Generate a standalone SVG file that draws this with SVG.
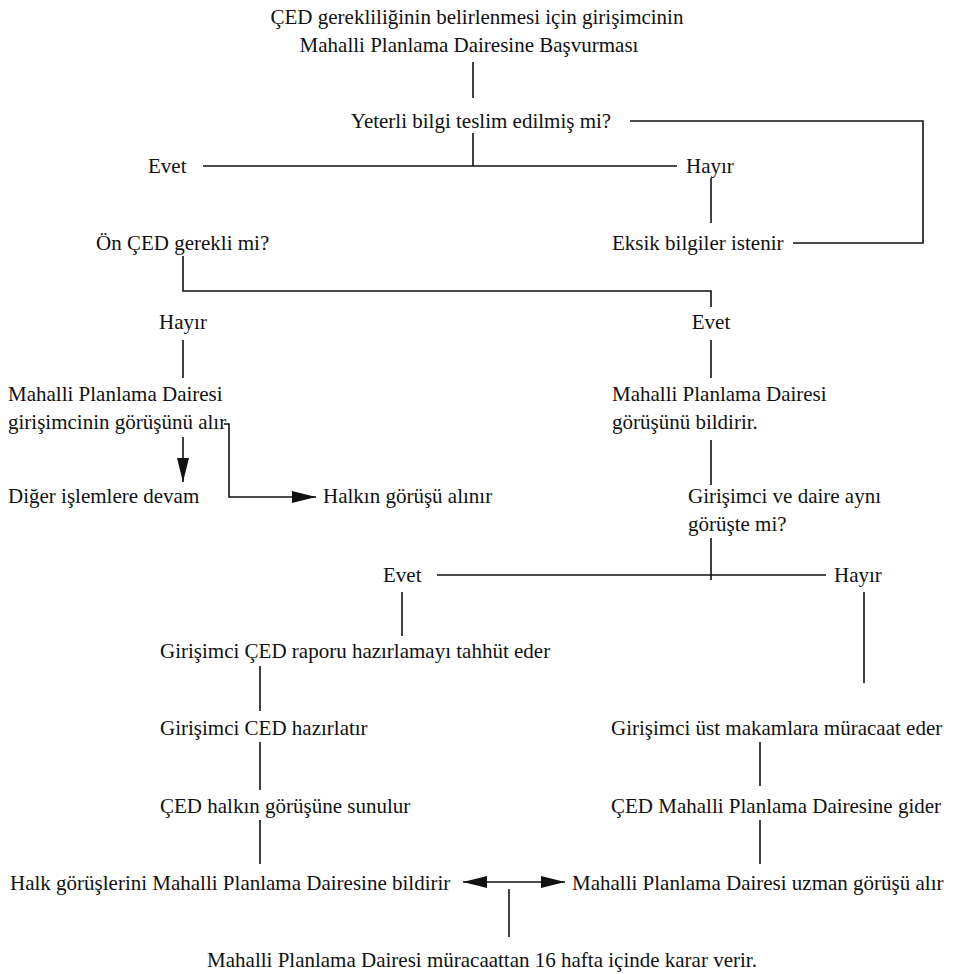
<svg xmlns="http://www.w3.org/2000/svg" width="956" height="974" viewBox="0 0 956 974">
<style>
.t text{font-size:21px;fill:#111}
.c{text-anchor:middle}
.ln{stroke:#111;stroke-width:1.6;fill:none}
</style>
<defs>
<marker id="ah" viewBox="0 0 24 12" markerWidth="24" markerHeight="12" refX="24" refY="6" markerUnits="userSpaceOnUse" orient="auto-start-reverse">
<path d="M0,0 L24,6 L0,12 z" fill="#111"/>
</marker>
</defs>
<rect width="956" height="974" fill="#fff"/>
<g id="connectors" class="ln">
<line x1="473" y1="62" x2="473" y2="98"/>
<line x1="473" y1="133" x2="473" y2="166"/>
<line x1="203" y1="166" x2="677" y2="166"/>
<polyline points="630,121 923,121 923,243 793,243"/>
<line x1="711" y1="178" x2="711" y2="223"/>
<polyline points="183,256 183,291 711,291 711,307"/>
<line x1="183" y1="340" x2="183" y2="378"/>
<line x1="711" y1="340" x2="711" y2="378"/>
<line x1="183" y1="437" x2="183" y2="482" marker-end="url(#ah)"/>
<polyline points="224,424 229,424 229,497 316,497" marker-end="url(#ah)"/>
<line x1="711" y1="440" x2="711" y2="485"/>
<line x1="711" y1="538" x2="711" y2="580"/>
<line x1="437" y1="575" x2="826" y2="575"/>
<line x1="402" y1="592" x2="402" y2="636"/>
<line x1="864" y1="592" x2="864" y2="683"/>
<line x1="260" y1="666" x2="260" y2="711"/>
<line x1="260" y1="742" x2="260" y2="790"/>
<line x1="760" y1="742" x2="760" y2="786"/>
<line x1="260" y1="820" x2="260" y2="864"/>
<line x1="760" y1="820" x2="760" y2="864"/>
<line x1="463" y1="882" x2="565" y2="882" marker-start="url(#ah)" marker-end="url(#ah)"/>
<line x1="509" y1="889" x2="509" y2="937"/>
</g>
<g class="t" font-family="'Liberation Serif', 'DejaVu Serif', serif">
<g id="n-basvuru"><text x="477" y="24" class="c">ÇED gerekliliğinin belirlenmesi için girişimcinin</text><text x="469" y="52" class="c">Mahalli Planlama Dairesine Başvurması</text></g>
<g id="n-yeterli"><text x="481" y="128" class="c">Yeterli bilgi teslim edilmiş mi?</text></g>
<g id="n-evet1"><text x="148" y="173">Evet</text></g>
<g id="n-hayir1"><text x="686" y="173">Hayır</text></g>
<g id="n-eksik"><text x="612" y="250">Eksik bilgiler istenir</text></g>
<g id="n-onced"><text x="96" y="250">Ön ÇED gerekli mi?</text></g>
<g id="n-hayir2"><text x="183" y="329" class="c">Hayır</text></g>
<g id="n-evet2"><text x="711" y="329" class="c">Evet</text></g>
<g id="n-mpd-alir"><text x="8" y="401">Mahalli Planlama Dairesi</text><text x="8" y="429">girişimcinin görüşünü alır</text></g>
<g id="n-mpd-bildirir"><text x="612" y="401">Mahalli Planlama Dairesi</text><text x="612" y="429">görüşünü bildirir.</text></g>
<g id="n-diger"><text x="8" y="503">Diğer işlemlere devam</text></g>
<g id="n-halkin"><text x="323" y="503">Halkın görüşü alınır</text></g>
<g id="n-ayni"><text x="688" y="503">Girişimci ve daire aynı</text><text x="688" y="531">görüşte mi?</text></g>
<g id="n-evet3"><text x="383" y="582">Evet</text></g>
<g id="n-hayir3"><text x="834" y="582">Hayır</text></g>
<g id="n-tahhut"><text x="160" y="658">Girişimci ÇED raporu hazırlamayı tahhüt eder</text></g>
<g id="n-hazirlatir"><text x="160" y="735">Girişimci CED hazırlatır</text></g>
<g id="n-ust"><text x="611" y="735">Girişimci üst makamlara müracaat eder</text></g>
<g id="n-sunulur"><text x="160" y="813">ÇED halkın görüşüne sunulur</text></g>
<g id="n-gider"><text x="611" y="813">ÇED Mahalli Planlama Dairesine gider</text></g>
<g id="n-halk-bildirir"><text x="10" y="890">Halk görüşlerini Mahalli Planlama Dairesine bildirir</text></g>
<g id="n-uzman"><text x="572" y="890">Mahalli Planlama Dairesi uzman görüşü alır</text></g>
<g id="n-karar"><text x="482" y="967" class="c">Mahalli Planlama Dairesi müracaattan 16 hafta içinde karar verir.</text></g>
</g>
</svg>
